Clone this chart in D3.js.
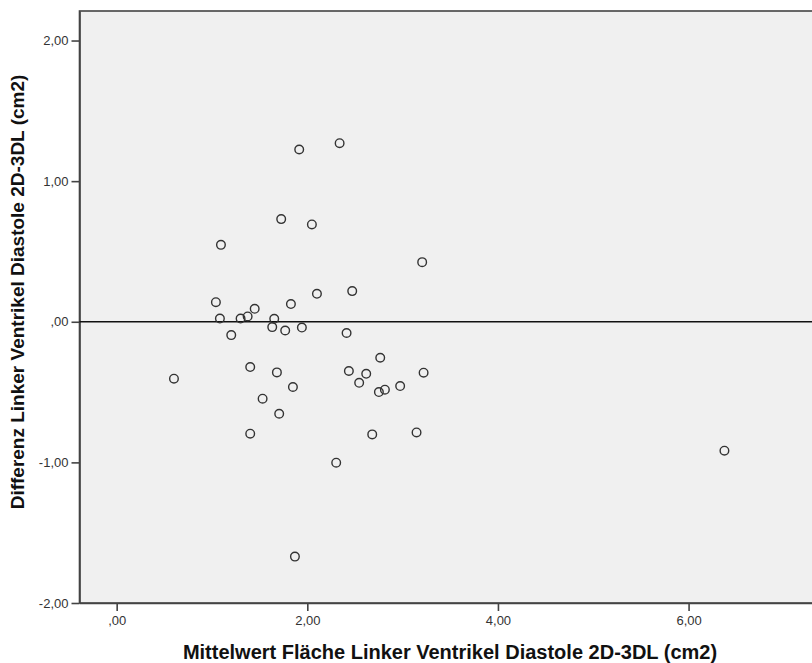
<!DOCTYPE html>
<meta charset="utf-8">
<script src="https://d3js.org/d3.v7.min.js"></script>
<style>
  body { margin: 0; background: #fff; }
  svg { display: block; }
</style>
<div id="my_dataviz"></div>
<script>

    // data
    var meanArea = [1.915, 2.339, 1.726, 2.048, 1.094, 3.205, 1.041, 2.101, 2.471, 1.448,
                    1.828, 1.083, 1.300, 1.374, 1.653, 1.632, 1.768, 1.943, 1.202, 2.412,
                    0.601, 1.401, 1.681, 1.849, 1.531, 1.705, 1.401, 2.303, 1.870, 2.765,
                    2.436, 2.618, 2.544, 2.751, 2.814, 2.974, 3.220, 2.681, 3.146, 6.376];
    var diffArea = [1.225, 1.270, 0.730, 0.692, 0.547, 0.424, 0.139, 0.199, 0.218, 0.092,
                    0.126, 0.023, 0.023, 0.038, 0.021, -0.038, -0.062, -0.041, -0.095, -0.080,
                    -0.405, -0.322, -0.360, -0.464, -0.547, -0.654, -0.796, -1.002, -1.670, -0.256,
                    -0.350, -0.370, -0.434, -0.500, -0.483, -0.457, -0.362, -0.801, -0.787, -0.917];
    var xTicks = [0, 2, 4, 6];
    var yTicks = [-2, -1, 0, 1, 2];
    var xLabel = "Mittelwert Fläche Linker Ventrikel Diastole 2D-3DL (cm2)";
    var yLabel = "Differenz Linker Ventrikel Diastole 2D-3DL (cm2)";

    var data = meanArea.map(function(d, i) { return {x: d, y: diffArea[i]}; });

    // german number format: ,00 / 2,00 / -1,00
    function fmt(v) {
        var s = d3.format(".2f")(v).replace(".", ",").replace("−", "-");
        return s.replace(/^0,/, ",").replace(/^-0,/, "-,");
    }

    var W = 812, H = 663;
    var plot = {left: 79.5, top: 11, bottom: 603, right: 812.5};

    var svg = d3.select("#my_dataviz")
        .append("svg")
            .attr("width", W)
            .attr("height", H)
            .style("font-family", "'Liberation Sans', Arial, sans-serif");

    var x = d3.scaleLinear().domain([-0.39, 7.3]).range([plot.left, plot.right]);
    var y = d3.scaleLinear().domain([-2, 2.21]).range([plot.bottom, plot.top]);

    // plot background + frame (right side runs off the page)
    svg.append("rect")
        .attr("x", plot.left).attr("y", plot.top)
        .attr("width", W + 20 - plot.left).attr("height", plot.bottom - plot.top)
        .attr("fill", "#f0f0f0")
        .attr("stroke", "#444")
        .attr("stroke-width", 1.6);

    // axes
    var yAxis = svg.append("g")
        .attr("transform", "translate(" + plot.left + ",0)")
        .call(d3.axisLeft(y).tickValues(yTicks).tickFormat(fmt).tickSize(8).tickSizeOuter(0));
    var xAxis = svg.append("g")
        .attr("transform", "translate(0," + plot.bottom + ")")
        .call(d3.axisBottom(x).tickValues(xTicks).tickFormat(fmt).tickSize(8).tickSizeOuter(0));

    [xAxis, yAxis].forEach(function(g) {
        g.select(".domain").attr("stroke", "#444").attr("stroke-width", 1.6);
        g.selectAll(".tick line").attr("stroke", "#444").attr("stroke-width", 1.6);
        g.selectAll(".tick text")
            .attr("fill", "#333")
            .style("font-size", "13px")
            .style("font-family", "'Liberation Sans', Arial, sans-serif");
    });
    yAxis.selectAll(".tick text").attr("x", -11);
    xAxis.selectAll(".tick text").attr("y", 13);

    // zero reference line
    svg.append("line")
        .attr("x1", plot.left).attr("x2", W)
        .attr("y1", y(0)).attr("y2", y(0))
        .attr("stroke", "#111")
        .attr("stroke-width", 1.5);

    // points
    svg.selectAll("circle.pt")
        .data(data)
        .enter()
        .append("circle")
            .attr("class", "pt")
            .attr("cx", function(d) { return x(d.x); })
            .attr("cy", function(d) { return y(d.y); })
            .attr("r", 4.3)
            .attr("fill", "none")
            .attr("stroke", "#333")
            .attr("stroke-width", 1.4);

    // axis titles
    svg.append("text")
        .attr("x", 450).attr("y", 659)
        .attr("text-anchor", "middle")
        .style("font-size", "20px")
        .style("font-weight", "bold")
        .attr("fill", "#111")
        .text(xLabel);

    svg.append("text")
        .attr("transform", "translate(24,292) rotate(-90)")
        .attr("text-anchor", "middle")
        .style("font-size", "19px")
        .style("font-weight", "bold")
        .attr("fill", "#111")
        .text(yLabel);

</script>
